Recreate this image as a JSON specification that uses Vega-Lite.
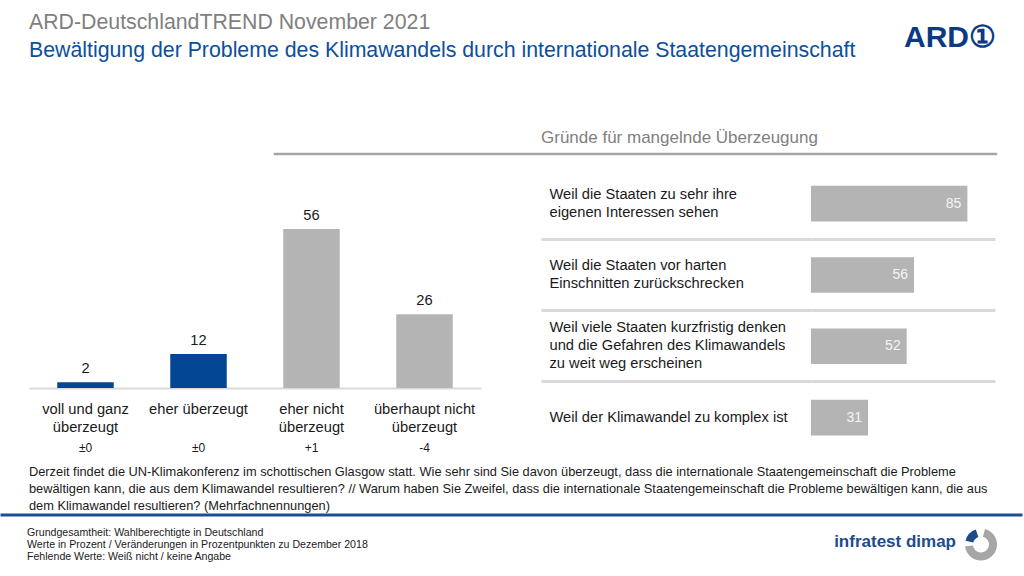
{
  "$schema": "https://vega.github.io/schema/vega-lite/v6.json",
  "background": "white",
  "padding": {"left": 0, "top": 12, "right": 0, "bottom": 0},
  "bounds": "flush",
  "spacing": 0,
  "config": {
    "view": {"stroke": null},
    "font": "Liberation Sans",
    "title": {"font": "Liberation Sans", "fontWeight": "normal", "anchor": "start"},
    "axis": {"labelFont": "Liberation Sans"}
  },
  "datasets": {
    "bars": [
      {"kategorie": "voll und ganz\nüberzeugt", "gruppe": "überzeugt", "wert": 2, "veraenderung": "±0"},
      {"kategorie": "eher überzeugt", "gruppe": "überzeugt", "wert": 12, "veraenderung": "±0"},
      {"kategorie": "eher nicht\nüberzeugt", "gruppe": "nicht überzeugt", "wert": 56, "veraenderung": "+1"},
      {"kategorie": "überhaupt nicht\nüberzeugt", "gruppe": "nicht überzeugt", "wert": 26, "veraenderung": "-4"}
    ],
    "gruende": [
      {"grund": "Weil die Staaten zu sehr ihre\neigenen Interessen sehen", "wert": 85},
      {"grund": "Weil die Staaten vor harten\nEinschnitten zurückschrecken", "wert": 56},
      {"grund": "Weil viele Staaten kurzfristig denken\nund die Gefahren des Klimawandels\nzu weit weg erscheinen", "wert": 52},
      {"grund": "Weil der Klimawandel zu komplex ist", "wert": 31}
    ]
  },
  "vconcat": [
    {
      "bounds": "flush",
      "spacing": 0,
      "hconcat": [
        {
          "width": 897, "height": 0.01,
          "data": {"values": []},
          "mark": "point",
          "title": {
            "text": "ARD-DeutschlandTREND November 2021",
            "subtitle": "Bewältigung der Probleme des Klimawandels durch internationale Staatengemeinschaft",
            "fontSize": 21.3, "color": "#7f7f7f",
            "subtitleFont": "Liberation Sans", "subtitleFontSize": 21.3, "subtitleColor": "#0b4f9c",
            "subtitlePadding": 6, "dx": 27, "offset": 3, "anchor": "start"
          }
        },
        {
          "width": 97, "height": 0.01,
          "data": {"values": []},
          "mark": "point",
          "title": {
            "text": "ARD①", "fontSize": 30, "fontWeight": "bold", "color": "#0b3a85",
            "anchor": "end", "offset": 11
          }
        }
      ]
    },
    {"width": 1, "height": 90, "data": {"values": []}, "mark": "point"},
    {
      "bounds": "flush",
      "spacing": 0,
      "hconcat": [
        {"width": 273, "height": 0.01, "data": {"values": []}, "mark": "point"},
        {
          "width": 721, "height": 0.01,
          "data": {"values": []},
          "mark": "point",
          "view": {"stroke": "#a6a6a6", "strokeWidth": 2.5},
          "title": {"text": "Gründe für mangelnde Überzeugung", "fontSize": 17, "color": "#7f7f7f", "dx": 266, "offset": 7}
        }
      ]
    },
    {"width": 1, "height": 13.4, "data": {"values": []}, "mark": "point"},
    {
      "bounds": "flush",
      "spacing": 0,
      "hconcat": [
        {"width": 809, "height": 0.01, "data": {"values": []}, "mark": "point"},
        {
          "width": 184, "height": 285.2,
          "data": {"name": "gruende"},
          "layer": [
            {
              "mark": {"type": "bar", "height": {"band": 0.5}, "color": "#b4b4b4"},
              "encoding": {
                "x": {"field": "wert", "type": "quantitative", "scale": {"domain": [0, 100]}, "axis": null},
                "y": {
                  "field": "grund", "type": "nominal", "sort": null,
                  "scale": {"paddingInner": 0, "paddingOuter": 0},
                  "axis": {
                    "orient": "left", "title": null, "domain": false, "ticks": false, "tickSize": 0,
                    "labelAlign": "left", "labelPadding": 262, "labelFontSize": 14.7, "labelLineHeight": 18,
                    "labelExpr": "split(datum.label, '\\n')", "labelLimit": 0, "labelColor": "#1a1a1a",
                    "labelBaseline": "middle",
                    "labelOffset": {
                      "condition": [
                        {"test": "length(split(datum.value, '\\n')) == 3", "value": -18},
                        {"test": "length(split(datum.value, '\\n')) == 2", "value": -9}
                      ],
                      "value": 0
                    }
                  }
                }
              }
            },
            {
              "mark": {"type": "text", "align": "right", "dx": -6, "fontSize": 14, "color": "#f4f4f4"},
              "encoding": {
                "x": {"field": "wert", "type": "quantitative", "scale": {"domain": [0, 100]}, "axis": null},
                "y": {
                  "field": "grund", "type": "nominal", "sort": null,
                  "axis": {
                    "orient": "left", "title": null, "domain": false, "labels": false,
                    "values": [
                      "Weil die Staaten vor harten\nEinschnitten zurückschrecken",
                      "Weil viele Staaten kurzfristig denken\nund die Gefahren des Klimawandels\nzu weit weg erscheinen",
                      "Weil der Klimawandel zu komplex ist"
                    ],
                    "bandPosition": 0,
                    "ticks": true, "tickSize": 270, "tickColor": "#d9d9d9", "tickWidth": 3,
                    "grid": true, "gridColor": "#d9d9d9", "gridWidth": 3
                  }
                },
                "text": {"field": "wert", "type": "quantitative"}
              }
            }
          ],
          "resolve": {"axis": {"y": "independent"}}
        }
      ]
    },
    {"width": 1, "height": 60.6, "data": {"values": []}, "mark": "point"},
    {
      "bounds": "flush",
      "spacing": 0,
      "hconcat": [
        {"width": 27, "height": 0.01, "data": {"values": []}, "mark": "point"},
        {
          "width": 452, "height": 159,
          "data": {"name": "bars"},
          "encoding": {
            "x": {
              "field": "kategorie", "type": "nominal", "sort": null,
              "scale": {"paddingInner": 0.5, "paddingOuter": 0.25},
              "axis": {
                "title": null, "domainColor": "#d9d9d9", "domainWidth": 2, "ticks": false,
                "labelAngle": 0, "labelFontSize": 14.7, "labelColor": "#1a1a1a", "labelPadding": 13,
                "labelLineHeight": 18, "labelExpr": "split(datum.label, '\\n')", "labelLimit": 0,
                "labelBaseline": "top"
              }
            },
            "y": {"field": "wert", "type": "quantitative", "scale": {"domain": [0, 56]}, "axis": null}
          },
          "layer": [
            {
              "mark": {"type": "bar"},
              "encoding": {
                "color": {
                  "field": "gruppe", "type": "nominal",
                  "scale": {"domain": ["überzeugt", "nicht überzeugt"], "range": ["#034694", "#b4b4b4"]},
                  "legend": null
                }
              }
            },
            {
              "mark": {"type": "text", "baseline": "bottom", "dy": -6, "fontSize": 14.7, "color": "#1a1a1a"},
              "encoding": {"text": {"field": "wert", "type": "quantitative"}}
            }
          ]
        }
      ]
    },
    {"width": 1, "height": 159, "data": {"values": []}, "mark": "point"},
    {
      "bounds": "flush",
      "spacing": 0,
      "hconcat": [
        {"width": 27, "height": 0.01, "data": {"values": []}, "mark": "point"},
        {
          "width": 452, "height": 120,
          "data": {"name": "bars"},
          "mark": {"type": "text", "fontSize": 12, "color": "#1a1a1a"},
          "encoding": {
            "x": {
              "field": "kategorie", "type": "nominal", "sort": null,
              "scale": {"paddingInner": 0.5, "paddingOuter": 0.25},
              "axis": null
            },
            "text": {"field": "veraenderung", "type": "nominal"}
          }
        }
      ]
    },
    {"width": 1, "height": 126.5, "data": {"values": []}, "mark": "point"},
    {
      "width": 1019, "height": 0.01,
      "data": {"values": []},
      "mark": "point",
      "view": {"stroke": "#1c4e96", "strokeWidth": 3},
      "title": {
        "text": [
          "Derzeit findet die UN-Klimakonferenz im schottischen Glasgow statt. Wie sehr sind Sie davon überzeugt, dass die internationale Staatengemeinschaft die Probleme",
          "bewältigen kann, die aus dem Klimawandel resultieren? // Warum haben Sie Zweifel, dass die internationale Staatengemeinschaft die Probleme bewältigen kann, die aus",
          "dem Klimawandel resultieren? (Mehrfachnennungen)"
        ],
        "fontSize": 12.8, "lineHeight": 17, "color": "#1a1a1a", "dx": 27, "offset": 2
      }
    },
    {
      "bounds": "flush",
      "spacing": 0,
      "hconcat": [
        {
          "width": 827, "height": 0.01,
          "data": {"values": []},
          "mark": "point",
          "title": {
            "text": [
              "Grundgesamtheit: Wahlberechtigte in Deutschland",
              "Werte in Prozent / Veränderungen in Prozentpunkten zu Dezember 2018",
              "Fehlende Werte: Weiß nicht / keine Angabe"
            ],
            "orient": "bottom", "fontSize": 10.6, "lineHeight": 12, "color": "#1a1a1a", "dx": 25, "offset": 12
          }
        },
        {
          "width": 127, "height": 0.01,
          "data": {"values": []},
          "mark": "point",
          "title": {
            "text": "infratest dimap", "orient": "bottom", "anchor": "end", "fontSize": 17,
            "fontWeight": "bold", "color": "#1e4c8c", "offset": 18
          }
        },
        {"width": 8, "height": 0.01, "data": {"values": []}, "mark": "point"},
        {
          "width": 34, "height": 57,
          "data": {"values": [{"teil": "Logo"}]},
          "layer": [
            {
              "mark": {"type": "arc", "outerRadius": 16, "innerRadius": 8, "theta": 0.25, "theta2": 4.6, "color": "#a6a6a6"},
              "encoding": {}
            },
            {
              "mark": {"type": "arc", "outerRadius": 16, "innerRadius": 8, "theta": 4.95, "theta2": 5.95, "color": "#1e4c8c"},
              "encoding": {}
            }
          ]
        }
      ]
    }
  ]
}
